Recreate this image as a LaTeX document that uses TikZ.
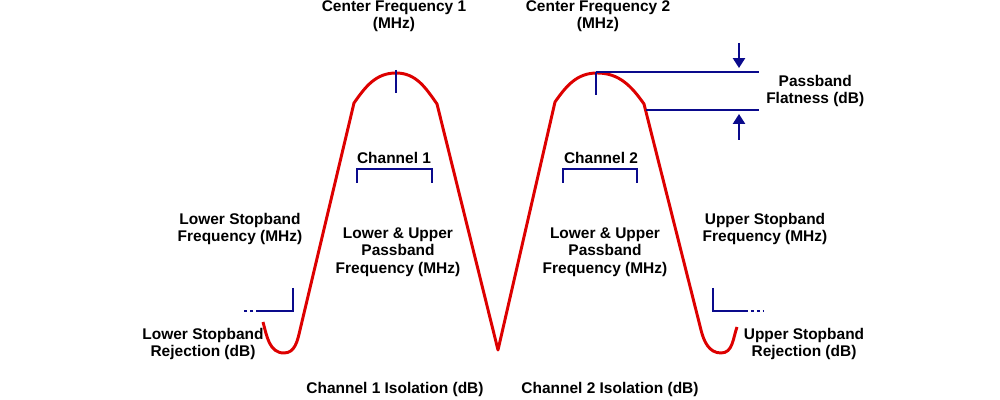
\documentclass[tikz,border=0pt]{standalone}
\usepackage{fontspec}
\setmainfont{Liberation Sans}
\usetikzlibrary{arrows.meta}
\definecolor{curvered}{HTML}{DD0000}
\definecolor{markblue}{HTML}{0A0A8C}
\tikzset{
  lbl/.style={align=center,font=\bfseries\fontsize{11}{12.3}\selectfont,inner sep=0pt},
  response/.style={draw=curvered,line width=2.1pt,line join=round},
  marker/.style={draw=markblue,line width=1.5pt},
  pointer/.style={-{Triangle[width=8.5pt,length=7pt]},draw=markblue,line width=1.5pt},
  dots/.style={draw=markblue,line width=1.8pt,dash pattern=on 2.2pt off 2pt}
}

\begin{document}
\begin{tikzpicture}[x=0.025cm,y=0.025cm]
\useasboundingbox (0,0) rectangle (1000,400);
% key points of the response
\coordinate (peakA) at (396,327);
\coordinate (peakB) at (597,327);
\coordinate (flatTop) at (759,328);
\coordinate (flatLow) at (759,290);
\coordinate (downTail) at (739,357);
\coordinate (downTip) at (739,332);
\coordinate (upTail) at (739,260);
\coordinate (upTip) at (739,286);
% filter response
\draw[response] (263,78) to[out=-75,in=180] (284,47) to[out=0,in=-103] (300,70)
  -- (354,297) to[out=55,in=180] (peakA) to[out=0,in=125] (437,296)
  -- (498,50) -- (555,298) to[out=55,in=180] (peakB) to[out=0,in=125] (644,296)
  -- (701,70) to[out=-76,in=180] (721,47) to[out=0,in=-110] (737,73);
% centre ticks
\draw[marker] (396,330) -- (396,307);
\draw[marker] (596,328) -- (596,305);
% passband flatness
\draw[marker] (596,328) -- (flatTop);
\draw[marker] (646,290) -- (flatLow);
\draw[pointer] (downTail) -- (downTip);
\draw[pointer] (upTail) -- (upTip);
% channel brackets
\draw[marker] (357,217) -- (357,231) -- (432,231) -- (432,217);
\draw[marker] (563,217) -- (563,231) -- (637,231) -- (637,217);
% stopband corners
\draw[marker] (293,112) -- (293,89) -- (259,89);
\draw[dots] (259,89) -- (242,89);
\draw[marker] (713,112) -- (713,89) -- (745,89);
\draw[dots] (745,89) -- (764,89);
% labels
\node[lbl] (cf1) at (394,384) {Center Frequency 1\\(MHz)};
\node[lbl] (cf2) at (598,384) {Center Frequency 2\\(MHz)};
\node[lbl] (ch1) at (394,242) {Channel 1};
\node[lbl] (ch2) at (601,242) {Channel 2};
\node[lbl,anchor=west] (flat) at (766,309) {Passband\\Flatness (dB)};
\node[lbl] (lsf) at (240,171) {Lower Stopband\\Frequency (MHz)};
\node[lbl] (pb1) at (398,148) {Lower \& Upper\\Passband\\Frequency (MHz)};
\node[lbl] (pb2) at (605,148) {Lower \& Upper\\Passband\\Frequency (MHz)};
\node[lbl] (usf) at (765,171) {Upper Stopband\\Frequency (MHz)};
\node[lbl] (lsr) at (203,56) {Lower Stopband\\Rejection (dB)};
\node[lbl] (usr) at (804,56) {Upper Stopband\\Rejection (dB)};
\node[lbl] (iso1) at (395,10) {Channel 1 Isolation (dB)};
\node[lbl] (iso2) at (610,10) {Channel 2 Isolation (dB)};
\end{tikzpicture}
\end{document}
